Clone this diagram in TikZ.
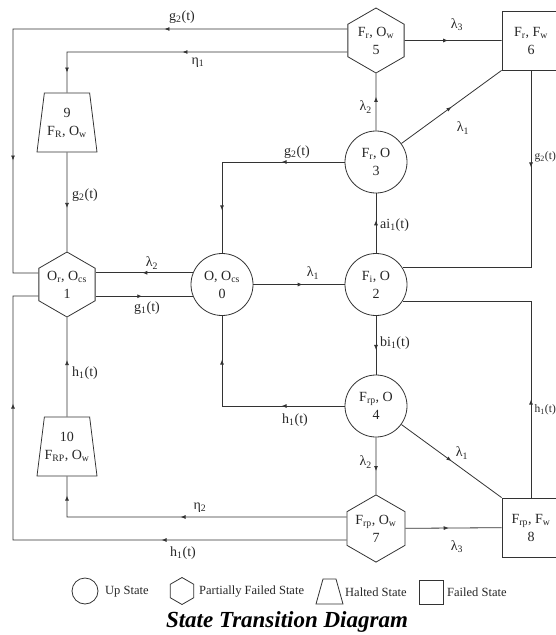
\documentclass[tikz,border=0pt]{standalone}
\usepackage{fontspec}
\setmainfont{Liberation Serif}
\usetikzlibrary{shapes.geometric,arrows.meta,decorations.markings}

\tikzset{
  upstate/.style={circle,draw=black!80,line width=0.8pt,minimum size=62pt,inner sep=0pt,align=center},
  partstate/.style={regular polygon,regular polygon sides=6,shape border rotate=30,draw=black!80,line width=0.8pt,minimum size=65pt,inner sep=0pt,align=center},
  haltstate/.style={trapezium,trapezium left angle=76,trapezium right angle=76,trapezium stretches body=true,draw=black!80,line width=0.8pt,minimum width=60pt,minimum height=59pt,inner sep=0pt,align=center},
  failstate/.style={rectangle,draw=black!80,line width=0.8pt,minimum width=58pt,minimum height=59pt,inner sep=0pt,align=center},
  arr/.style={postaction={decorate,decoration={markings,mark=at position #1 with {\arrow{>}}}}},
  lab/.style={inner sep=0pt,font=\fontsize{14}{16}\selectfont},
  legtext/.style={inner sep=0pt,anchor=west,font=\fontsize{12.5}{14}\selectfont}
}

\begin{document}
\begin{tikzpicture}[x=1pt,y=1pt,>={Latex[length=5pt,width=4pt]},
  every node/.append style={text=black!85},
  line/.style={draw=black!80,line width=0.8pt},
  font=\fontsize{14}{18}\selectfont]

\useasboundingbox (0,0) rectangle (556,-635);

% States
\node[upstate] (S0) at (222,-284.5) {O, O\textsubscript{cs}\\0};
\node[partstate] (S1) at (67,-284.5) {O\textsubscript{r}, O\textsubscript{cs}\\1};
\node[upstate] (S2) at (376,-284.5) {F\textsubscript{i}, O\\2};
\node[upstate] (S3) at (376,-162) {F\textsubscript{r}, O\\3};
\node[upstate] (S4) at (376,-406) {F\textsubscript{rp}, O\\4};
\node[partstate] (S5) at (376,-40.5) {F\textsubscript{r}, O\textsubscript{w}\\5};
\node[failstate] (S6) at (531,-40.5) {F\textsubscript{r}, F\textsubscript{w}\\6};
\node[partstate] (S7) at (376,-528.5) {F\textsubscript{rp}, O\textsubscript{w}\\7};
\node[failstate] (S8) at (531,-527.5) {F\textsubscript{rp}, F\textsubscript{w}\\8};
\node[haltstate] (S9) at (67,-122.5) {9\\F\textsubscript{R}, O\textsubscript{w}};
\node[haltstate] (S10) at (67,-446.5) {10\\F\textsubscript{RP}, O\textsubscript{w}};

% Corners of the outer loops
\coordinate (c1) at (13,-29);
\coordinate (c2) at (13,-273);
\coordinate (c3) at (67,-52);
\coordinate (c4) at (13,-296);
\coordinate (c5) at (13,-540);
\coordinate (c6) at (67,-517);
\coordinate (c7) at (222,-162);
\coordinate (c8) at (222,-406);

% Left part
\draw[line,arr=183pt,arr=466pt] ([yshift=11.5pt]S5.180) -- (c1) -- (c2) -- ([yshift=11.5pt]S1.180);
\draw[line,arr=165pt,arr=301pt] ([yshift=-11.5pt]S5.180) -- (c3) -- (S9.north);
\draw[line,arr=0.56] (S9.south) -- (S1.90);
\draw[line,arr=0.52] (S0.158) -- (S0.158 -| S1.0);
\draw[line,arr=0.48] (S0.202 -| S1.0) -- (S0.202);
\draw[line,arr=0.57] (S10.north) -- (S1.270);
\draw[line,arr=166pt,arr=301pt] ([yshift=11.5pt]S7.180) -- (c6) -- (S10.south);
\draw[line,arr=185pt,arr=470pt] ([yshift=-11.5pt]S7.180) -- (c5) -- (c4) -- ([yshift=-11.5pt]S1.180);

% Middle part
\draw[line,arr=0.54] (S0) -- (S2);
\draw[line,arr=63pt,arr=171pt] (S3.180) -- (c7) -- (S0.90);
\draw[line,arr=63pt,arr=169pt] (S4.180) -- (c8) -- (S0.270);
\draw[line,arr=0.55] (S2) -- (S3);
\draw[line,arr=0.58] (S2) -- (S4);
\draw[line,arr=0.59] (S3) -- (S5);
\draw[line,arr=0.59] (S4) -- (S7);

% Right part
\draw[line,arr=0.5] (S3) -- (S6.south west);
\draw[line,arr=0.5] (S4) -- (S8.north west);
\draw[line,arr=0.45] (S5) -- (S6);
\draw[line,arr=0.45] (S7) -- (S8);
\draw[line,arr=97pt] (S6) -- (S6 |- S2.32) -- (S2.32);
\draw[line,arr=98pt] (S8) -- (S8 |- S2.-32) -- (S2.-32);

% Rates
\node[lab] (Lg2top) at (182,-17) {g\textsubscript{2}(t)};
\node[lab] (Leta1) at (198,-63) {η\textsubscript{1}};
\node[lab,anchor=west] (Lg2nine) at (72,-195) {g\textsubscript{2}(t)};
\node[lab] (Llam2a) at (152,-263) {λ\textsubscript{2}};
\node[lab] (Lg1) at (147,-308) {g\textsubscript{1}(t)};
\node[lab,anchor=west] (Lh1ten) at (72,-373) {h\textsubscript{1}(t)};
\node[lab] (Leta2) at (200,-508) {η\textsubscript{2}};
\node[lab] (Lh1bot) at (183,-553) {h\textsubscript{1}(t)};
\node[lab] (Lg2three) at (297,-152) {g\textsubscript{2}(t)};
\node[lab] (Lh1four) at (295,-420) {h\textsubscript{1}(t)};
\node[lab] (Llam1a) at (313,-273) {λ\textsubscript{1}};
\node[lab,anchor=west] (Lai) at (380,-225) {ai\textsubscript{1}(t)};
\node[lab,anchor=west] (Lbi) at (380,-343) {bi\textsubscript{1}(t)};
\node[lab,anchor=east] (Llam2b) at (372,-107) {λ\textsubscript{2}};
\node[lab,anchor=east] (Llam2c) at (372,-462) {λ\textsubscript{2}};
\node[lab] (Llam1b) at (463,-128) {λ\textsubscript{1}};
\node[lab] (Llam1c) at (462,-453) {λ\textsubscript{1}};
\node[lab] (Llam3a) at (457,-25) {λ\textsubscript{3}};
\node[lab] (Llam3b) at (457,-547) {λ\textsubscript{3}};
\node[lab,anchor=west,font=\fontsize{11.5}{13}\selectfont] (Lg2six) at (534.5,-157) {g\textsubscript{2}(t)};
\node[lab,anchor=west,font=\fontsize{11.5}{13}\selectfont] (Lh1eight) at (534.5,-410) {h\textsubscript{1}(t)};

% Legend
\node[upstate,minimum size=26pt] (Kup) at (85,-591) {};
\node[legtext] (Tup) at (105,-592) {Up State};
\node[partstate,minimum size=27pt] (Kpart) at (182,-591) {};
\node[legtext] (Tpart) at (199,-592) {Partially Failed State};
\draw[line] (316,-604) -- (323,-579) -- (336,-579) -- (343,-604) -- cycle;
\node[legtext] (Thalt) at (345,-592) {Halted State};
\node[failstate,minimum width=24pt,minimum height=24pt] (Kfail) at (431,-592) {};
\node[legtext] (Tfail) at (447,-592) {Failed State};

\node[font=\fontsize{23}{26}\selectfont\bfseries\itshape,text=black] (title) at (287,-622) {State Transition Diagram};

\end{tikzpicture}
\end{document}
